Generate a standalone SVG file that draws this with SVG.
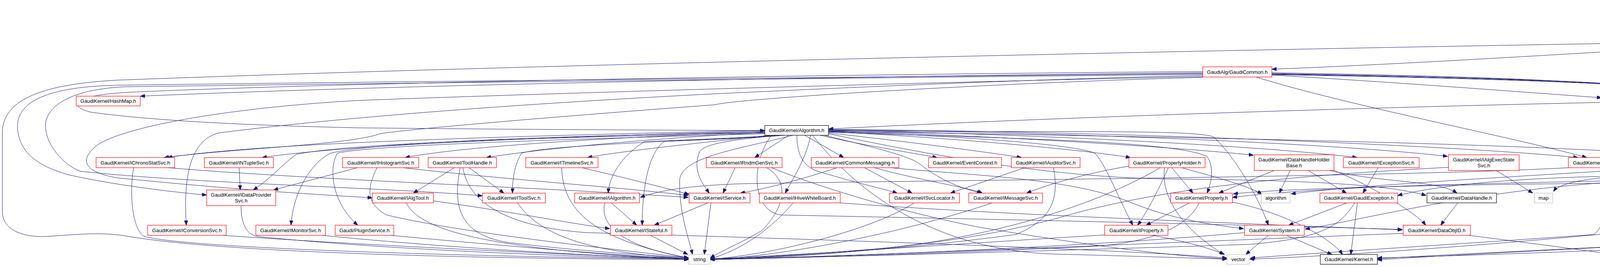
<svg xmlns="http://www.w3.org/2000/svg" width="5475" height="683" viewBox="0 0 5475 683">
<defs>
<marker id="a" markerUnits="userSpaceOnUse" markerWidth="12" markerHeight="9" refX="12" refY="4.5" orient="auto"><path d="M0,0 L12,4.5 L0,9 z" fill="#191970" stroke="#191970" stroke-width="1"/></marker>
</defs>
<style>
.node rect{fill:#fff;stroke-width:1.2}
.red rect{stroke:#ff0000}
.blk rect{stroke:#000}
.gry rect{stroke:#bfbfbf}
.root rect{fill:#bfbfbf;stroke:#000}
.node text{font-family:"Liberation Sans",Arial,Helvetica,sans-serif;font-size:13px;fill:#000;text-anchor:middle}
#edges path{fill:none;stroke:#191970;stroke-width:1;marker-end:url(#a)}
</style>
<rect width="5475" height="683" fill="#fff"/>
<g id="edges">
<path d="M5050,32 L4727,88"/>
<path d="M5088,32 L4957,88"/>
<path d="M5117,32 L5117,88"/>
<path d="M5138,32 L5231,88"/>
<path d="M5158,32 L5336,81"/>
<path d="M4680,114 L4790,171"/>
<path d="M4567,107 C4200,125 3700,160 3256,177"/>
<path d="M4623,114 C4520,160 4330,205 4249,246"/>
<path d="M4567,104 C3500,120 1500,160 300,205 C120,215 6,250 6,340 L6,540 C6,590 60,607 117,605 C200,600 260,592 330,605 C600,650 1300,662 1763,664"/>
<path d="M4653,114 C4615,200 4607,300 4607,509 C4607,535 4585,540 4560,545 C4200,600 3500,652 3199,663"/>
<path d="M4664,114 C4700,200 4708,260 4708,509 C4708,570 4680,600 4653,602 C4300,625 3700,650 3526,662"/>
<path d="M4938,114 L4982,171"/>
<path d="M4926,114 L4926,509 C4926,560 4900,585 4800,592 C4400,620 3700,652 3526,665"/>
<path d="M3079,186 C2300,194 1100,214 359,246"/>
<path d="M3256,192 C3600,212 3900,236 4100,250"/>
<path d="M3215,197 C3450,270 3870,350 4062,403"/>
<path d="M3079,183 C2400,188 1000,206 330,236 C190,243 170,272 233,287 C400,310 650,321 915,327 C1300,331 1700,333 1958,334"/>
<path d="M3079,193 C2600,203 2000,232 1830,240 C1400,262 915,295 560,340 C480,360 470,470 477,576"/>
<path d="M3079,188 C2400,196 1200,206 300,218 C100,222 40,270 45,330 C50,380 80,420 175,447 C300,475 450,492 529,499"/>
<path d="M3079,190 C2400,198 1200,210 320,222 C150,230 110,290 117,330 C120,370 160,420 205,438 C500,470 1000,480 1235,501"/>
<path d="M3079,196 C2600,205 1500,235 915,257 C600,275 330,320 250,370 C200,410 215,440 300,455 C600,485 800,497 953,506"/>
<path d="M3079,198 C2600,210 1900,250 1830,268 C1400,300 1050,330 973,342 C900,370 600,380 420,403"/>
<path d="M3256,186 C3700,194 4200,205 4340,245 C4345,270 4340,320 4340,380 C4340,440 4300,455 4200,462 C3800,480 3500,560 3341,586"/>
<path d="M3256,188 C3700,196 4220,208 4380,245 C4382,270 4380,320 4380,400 C4380,445 4330,465 4250,468 C3800,470 3300,480 3157,496"/>
<path d="M3256,190 C3700,198 4250,210 4413,245 C4415,270 4413,320 4413,380 C4413,410 4380,420 4300,425 C4100,440 3500,470 3305,496"/>
<path d="M3256,189 C3800,197 4300,212 4436,245 C4440,300 4436,330 4436,380 C4436,420 4300,440 4100,455 C4050,460 3990,470 3977,490"/>
<path d="M3256,191 C3800,200 4300,215 4436,243 C4520,262 4600,300 4630,330 C4650,360 4656,420 4656,542 C4656,585 4630,605 4560,617 C4200,640 3700,655 3526,660"/>
<path d="M4100,262 C3500,275 2700,300 2121,330"/>
<path d="M4214,271 C4235,300 4243,330 4243,420 C4243,440 4220,448 4150,450 C3900,455 3700,470 3578,500"/>
<path d="M4226,271 C4260,310 4278,340 4278,420 C4278,450 4250,458 4150,462 C3800,470 3400,475 3155,505"/>
<path d="M1958,333 C1500,345 700,360 429,403"/>
<path d="M1958,335 C1500,348 900,368 671,403"/>
<path d="M1958,337 C1600,350 1200,372 1037,403"/>
<path d="M1958,339 C1700,352 1400,378 1245,403"/>
<path d="M1970,346 C1800,365 1600,385 1504,403"/>
<path d="M2019,346 L1932,403"/>
<path d="M2060,346 L2160,403"/>
<path d="M2100,346 C2200,370 2330,390 2399,403"/>
<path d="M2121,340 C2300,360 2500,385 2615,403"/>
<path d="M2121,337 C2400,350 2750,380 2894,403"/>
<path d="M2121,335 C2500,345 3000,375 3209,397"/>
<path d="M2121,333 C2600,342 3200,370 3474,403"/>
<path d="M2121,332 C2700,338 3400,365 3706,400"/>
<path d="M2121,331 C2800,335 3700,370 4040,403"/>
<path d="M1958,340 C1400,352 900,365 758,395 C723,420 690,460 648,486"/>
<path d="M1958,338 C1400,348 950,365 846,392 C790,420 750,500 745,576"/>
<path d="M1958,342 C1500,355 950,370 864,392 C840,430 850,520 916,576"/>
<path d="M1995,346 C1800,360 1400,370 1335,392 C1312,430 1312,475 1312,494"/>
<path d="M2000,346 C1850,355 1700,360 1650,362 C1590,400 1560,450 1557,494"/>
<path d="M2010,346 C1900,355 1780,358 1700,362 C1650,400 1644,520 1644,576"/>
<path d="M2030,346 C1900,380 1744,400 1740,460 C1738,540 1760,600 1773,651"/>
<path d="M2000,346 C1900,355 1800,365 1790,390 C1775,430 1790,460 1816,494"/>
<path d="M2040,346 C2040,400 2060,430 2100,440 C2200,470 2250,480 2297,494"/>
<path d="M2110,346 C2250,380 2330,400 2355,420 C2400,455 2450,480 2513,494"/>
<path d="M2075,346 C2065,400 2040,440 2010,494"/>
<path d="M2121,338 C2600,355 3000,360 3090,400 C3110,430 3100,470 3090,494"/>
<path d="M2121,336 C2500,350 2750,370 2803,392 C2830,420 2860,500 2900,576"/>
<path d="M2121,334 C2700,340 3050,330 3107,350 C3160,400 3220,500 3247,576"/>
<path d="M1975,346 C1920,420 1925,540 2000,550 C2500,560 3200,575 3590,587"/>
<path d="M2121,342 C2400,400 2700,455 3000,458 C3300,460 3550,470 3651,500"/>
<path d="M2121,336 C3000,350 3800,365 4220,392 C4250,420 4261,475 4250,550 C4240,600 4230,630 4229,651"/>
<path d="M2080,346 C2200,500 2400,640 2700,650 C2900,655 3050,660 3141,663"/>
<path d="M430,429 C800,460 1400,480 1762,505"/>
<path d="M342,429 C330,500 340,590 370,605 C500,640 1400,660 1763,662"/>
<path d="M612,429 L615,486"/>
<path d="M915,429 L700,486"/>
<path d="M1032,429 C1300,460 1600,480 1762,500"/>
<path d="M965,429 C940,480 935,520 990,550 C1200,600 1600,640 1763,660"/>
<path d="M1163,429 L1058,494"/>
<path d="M1201,429 L1290,494"/>
<path d="M1178,429 C1160,520 1170,600 1300,620 C1500,645 1700,655 1763,660"/>
<path d="M1185,429 C1200,520 1300,580 1500,595 C2200,615 2900,640 3141,660"/>
<path d="M1490,429 C1600,455 1700,480 1764,497"/>
<path d="M1438,429 C1440,560 1560,620 1763,660"/>
<path d="M1882,429 L1851,494"/>
<path d="M1963,429 C2030,470 2000,540 1950,590 C1900,620 1850,640 1818,660"/>
<path d="M1975,429 C2100,480 2300,540 2500,580 C2800,630 3000,655 3141,662"/>
<path d="M2143,429 C2050,460 1950,485 1895,494"/>
<path d="M2213,429 L2335,494"/>
<path d="M2238,429 C2350,460 2480,480 2515,494"/>
<path d="M2279,429 C2500,450 2745,455 2900,520 C3000,560 3100,575 3184,585"/>
<path d="M2623,429 L2433,494"/>
<path d="M2697,429 C2710,500 2700,560 2600,600 C2300,640 2000,658 1818,663"/>
<path d="M2890,425 C2800,440 2700,465 2628,494"/>
<path d="M2991,429 C2960,500 2925,560 2912,576"/>
<path d="M3000,429 L3054,494"/>
<path d="M3025,429 C3100,450 3180,470 3231,496"/>
<path d="M2981,429 C2970,520 3050,600 3133,651"/>
<path d="M2970,429 C2800,530 2500,620 2200,640 C2000,655 1900,660 1818,664"/>
<path d="M3262,436 L3120,494"/>
<path d="M3303,436 L3275,494"/>
<path d="M3349,436 L3447,494"/>
<path d="M3404,436 C3550,470 3680,460 3730,494"/>
<path d="M3410,434 C3500,470 3620,540 3650,576"/>
<path d="M3528,429 L3489,494"/>
<path d="M3830,436 L3924,494"/>
<path d="M3708,428 C3400,445 3000,470 2700,560 C2400,640 2000,660 1818,664"/>
<path d="M4118,429 C4125,500 4110,580 4080,600 C3800,620 3400,645 3201,660"/>
<path d="M4015,429 C3600,452 2500,460 1900,470 C1750,475 1680,490 1639,505"/>
<path d="M617,526 C617,560 625,600 660,605 C1000,640 1500,658 1763,662"/>
<path d="M1110,514 C1300,540 1450,570 1561,585"/>
<path d="M1040,519 C1080,600 1300,640 1763,664"/>
<path d="M1325,519 C1380,600 1500,645 1763,662"/>
<path d="M1565,519 L1630,576"/>
<path d="M1548,519 C1530,600 1650,640 1763,660"/>
<path d="M1812,519 L1675,576"/>
<path d="M1820,519 L1803,651"/>
<path d="M2030,519 C1980,580 1900,640 1818,662"/>
<path d="M2151,519 C2500,545 3000,565 3590,588"/>
<path d="M2340,519 C2250,580 2000,650 1818,663"/>
<path d="M2540,519 C2300,600 2000,655 1818,664"/>
<path d="M3045,519 L2934,576"/>
<path d="M3070,519 C3040,580 2950,620 2800,630 C2400,650 2000,660 1818,664"/>
<path d="M3155,517 C3270,540 3400,600 3437,651"/>
<path d="M3448,519 L3299,576"/>
<path d="M3475,519 L3458,651"/>
<path d="M3468,519 C3430,580 3380,610 3200,625 C2600,645 2000,660 1818,664"/>
<path d="M3732,519 L3688,576"/>
<path d="M570,602 C900,625 1400,650 1763,662"/>
<path d="M825,602 C1100,630 1500,655 1763,662"/>
<path d="M1000,602 C1300,630 1600,655 1763,662"/>
<path d="M1665,602 L1761,651"/>
<path d="M2830,601 C2500,620 2100,650 1818,662"/>
<path d="M2950,602 C3050,620 3110,640 3135,651"/>
<path d="M3247,602 L3189,651"/>
<path d="M3293,602 L3410,651"/>
<path d="M3186,595 C2800,630 2200,655 1818,664"/>
<path d="M3760,602 C3900,620 4100,645 4190,660"/>
<path d="M3592,597 C3000,620 2200,655 1818,664"/>
</g>
<g id="n_parallelizer" class="node root"><rect x="4996" y="6" width="243" height="26"/><text x="5117.5" y="23.5">GaudiMTTools/src/GaudiParallelizer.h</text></g>
<g id="n_gaudialgorithm" class="node blk"><rect x="4567" y="88" width="180" height="26"/><text x="4657" y="105.5">GaudiAlg/GaudiAlgorithm.h</text></g>
<g id="n_threadlocal" class="node blk"><rect x="4814" y="88" width="226" height="26"/><text x="4927" y="105.5">GaudiKernel/ThreadLocalContext.h</text></g>
<g id="n_boostbind" class="node gry"><rect x="5064" y="88" width="106" height="26"/><text x="5117" y="105.5">boost/bind.hpp</text></g>
<g id="n_taskgroup" class="node gry"><rect x="5195" y="88" width="119" height="26"/><text x="5254.5" y="105.5">tbb/task_group.h</text></g>
<g id="n_taskinit" class="node gry"><rect x="5338" y="81" width="132" height="40"/><text x="5404" y="98">tbb/task_scheduler</text><text x="5404" y="113">_init.h</text></g>
<g id="n_gaudicommon" class="node red"><rect x="3079" y="171" width="177" height="26"/><text x="3167.5" y="188.5">GaudiAlg/GaudiCommon.h</text></g>
<g id="n_gaudialg" class="node blk"><rect x="4746" y="171" width="143" height="26"/><text x="4817.5" y="188.5">GaudiAlg/GaudiAlg.h</text></g>
<g id="n_cstddef" class="node gry"><rect x="4964" y="171" width="66" height="26"/><text x="4997" y="188.5">cstddef</text></g>
<g id="n_hashmap" class="node red"><rect x="195" y="246" width="164" height="25"/><text x="277" y="263">GaudiKernel/HashMap.h</text></g>
<g id="n_dataobjecthandle" class="node red"><rect x="4100" y="246" width="215" height="25"/><text x="4207.5" y="263">GaudiKernel/DataObjectHandle.h</text></g>
<g id="n_algorithm" class="node blk"><rect x="1958" y="321" width="163" height="25"/><text x="2039.5" y="338">GaudiKernel/Algorithm.h</text></g>
<g id="n_ichronostatsvc" class="node red"><rect x="246" y="403" width="201" height="26"/><text x="346.5" y="420.5">GaudiKernel/IChronoStatSvc.h</text></g>
<g id="n_intuplesvc" class="node red"><rect x="523" y="403" width="177" height="26"/><text x="611.5" y="420.5">GaudiKernel/INTupleSvc.h</text></g>
<g id="n_ihistogramsvc" class="node red"><rect x="877" y="403" width="195" height="26"/><text x="974.5" y="420.5">GaudiKernel/IHistogramSvc.h</text></g>
<g id="n_toolhandle" class="node red"><rect x="1096" y="403" width="175" height="26"/><text x="1183.5" y="420.5">GaudiKernel/ToolHandle.h</text></g>
<g id="n_itimelinesvc" class="node red"><rect x="1346" y="403" width="185" height="26"/><text x="1438.5" y="420.5">GaudiKernel/ITimelineSvc.h</text></g>
<g id="n_irndmgensvc" class="node red"><rect x="1808" y="403" width="194" height="26"/><text x="1905" y="420.5">GaudiKernel/IRndmGenSvc.h</text></g>
<g id="n_commonmessaging" class="node red"><rect x="2077" y="403" width="224" height="26"/><text x="2189" y="420.5">GaudiKernel/CommonMessaging.h</text></g>
<g id="n_eventcontext" class="node red"><rect x="2377" y="403" width="187" height="26"/><text x="2470.5" y="420.5">GaudiKernel/EventContext.h</text></g>
<g id="n_iauditorsvc" class="node red"><rect x="2589" y="403" width="176" height="26"/><text x="2677" y="420.5">GaudiKernel/IAuditorSvc.h</text></g>
<g id="n_propertyholder" class="node red"><rect x="2890" y="403" width="195" height="26"/><text x="2987.5" y="420.5">GaudiKernel/PropertyHolder.h</text></g>
<g id="n_datahandleholderbase" class="node red"><rect x="3211" y="396" width="204" height="40"/><text x="3313" y="412.5">GaudiKernel/DataHandleHolder</text><text x="3313" y="427.5">Base.h</text></g>
<g id="n_iexceptionsvc" class="node red"><rect x="3439" y="403" width="194" height="26"/><text x="3536" y="420.5">GaudiKernel/IExceptionSvc.h</text></g>
<g id="n_ialgexecstatesvc" class="node red"><rect x="3708" y="396" width="181" height="40"/><text x="3798.5" y="412.5">GaudiKernel/IAlgExecState</text><text x="3798.5" y="427.5">Svc.h</text></g>
<g id="n_ialgcontextsvc" class="node red"><rect x="4015" y="403" width="199" height="26"/><text x="4114.5" y="420.5">GaudiKernel/IAlgContextSvc.h</text></g>
<g id="n_idataprovidersvc" class="node red"><rect x="529" y="486" width="177" height="40"/><text x="617.5" y="502.5">GaudiKernel/IDataProvider</text><text x="617.5" y="517.5">Svc.h</text></g>
<g id="n_ialgtool" class="node red"><rect x="953" y="494" width="157" height="25"/><text x="1031.5" y="511">GaudiKernel/IAlgTool.h</text></g>
<g id="n_itoolsvc" class="node red"><rect x="1235" y="494" width="161" height="25"/><text x="1315.5" y="511">GaudiKernel/IToolSvc.h</text></g>
<g id="n_ialgorithm" class="node red"><rect x="1471" y="494" width="166" height="25"/><text x="1554" y="511">GaudiKernel/IAlgorithm.h</text></g>
<g id="n_iservice" class="node red"><rect x="1764" y="494" width="156" height="25"/><text x="1842" y="511">GaudiKernel/IService.h</text></g>
<g id="n_ihivewhiteboard" class="node red"><rect x="1944" y="494" width="207" height="25"/><text x="2047.5" y="511">GaudiKernel/IHiveWhiteBoard.h</text></g>
<g id="n_isvclocator" class="node red"><rect x="2277" y="494" width="179" height="25"/><text x="2366.5" y="511">GaudiKernel/ISvcLocator.h</text></g>
<g id="n_imessagesvc" class="node red"><rect x="2480" y="494" width="189" height="25"/><text x="2574.5" y="511">GaudiKernel/IMessageSvc.h</text></g>
<g id="n_property" class="node red"><rect x="2997" y="494" width="158" height="25"/><text x="3076" y="511">GaudiKernel/Property.h</text></g>
<g id="n_algorithmstd" class="node gry"><rect x="3229" y="494" width="74" height="25"/><text x="3266" y="511">algorithm</text></g>
<g id="n_gaudiexception" class="node red"><rect x="3379" y="494" width="199" height="25"/><text x="3478.5" y="511">GaudiKernel/GaudiException.h</text></g>
<g id="n_datahandle" class="node blk"><rect x="3653" y="494" width="178" height="25"/><text x="3742" y="511">GaudiKernel/DataHandle.h</text></g>
<g id="n_map" class="node gry"><rect x="3928" y="494" width="47" height="25"/><text x="3951.5" y="511">map</text></g>
<g id="n_iconversionsvc" class="node red"><rect x="378" y="576" width="201" height="26"/><text x="478.5" y="593.5">GaudiKernel/IConversionSvc.h</text></g>
<g id="n_imonitorsvc" class="node red"><rect x="655" y="576" width="178" height="26"/><text x="744" y="593.5">GaudiKernel/IMonitorSvc.h</text></g>
<g id="n_pluginservice" class="node red"><rect x="858" y="576" width="150" height="26"/><text x="933" y="593.5">Gaudi/PluginService.h</text></g>
<g id="n_istateful" class="node red"><rect x="1563" y="576" width="157" height="26"/><text x="1641.5" y="593.5">GaudiKernel/IStateful.h</text></g>
<g id="n_iproperty" class="node red"><rect x="2828" y="576" width="162" height="26"/><text x="2909" y="593.5">GaudiKernel/IProperty.h</text></g>
<g id="n_system" class="node red"><rect x="3186" y="576" width="153" height="26"/><text x="3262.5" y="593.5">GaudiKernel/System.h</text></g>
<g id="n_dataobjid" class="node red"><rect x="3592" y="576" width="172" height="26"/><text x="3678" y="593.5">GaudiKernel/DataObjID.h</text></g>
<g id="n_string" class="node gry"><rect x="1763" y="651" width="55" height="25"/><text x="1790.5" y="668">string</text></g>
<g id="n_vector" class="node gry"><rect x="3141" y="651" width="58" height="25"/><text x="3170" y="668">vector</text></g>
<g id="n_kernel" class="node blk"><rect x="3380" y="651" width="146" height="25"/><text x="3453" y="668">GaudiKernel/Kernel.h</text></g>
<g id="n_mutex" class="node gry"><rect x="4192" y="651" width="58" height="25"/><text x="4221" y="668">mutex</text></g>
</svg>
